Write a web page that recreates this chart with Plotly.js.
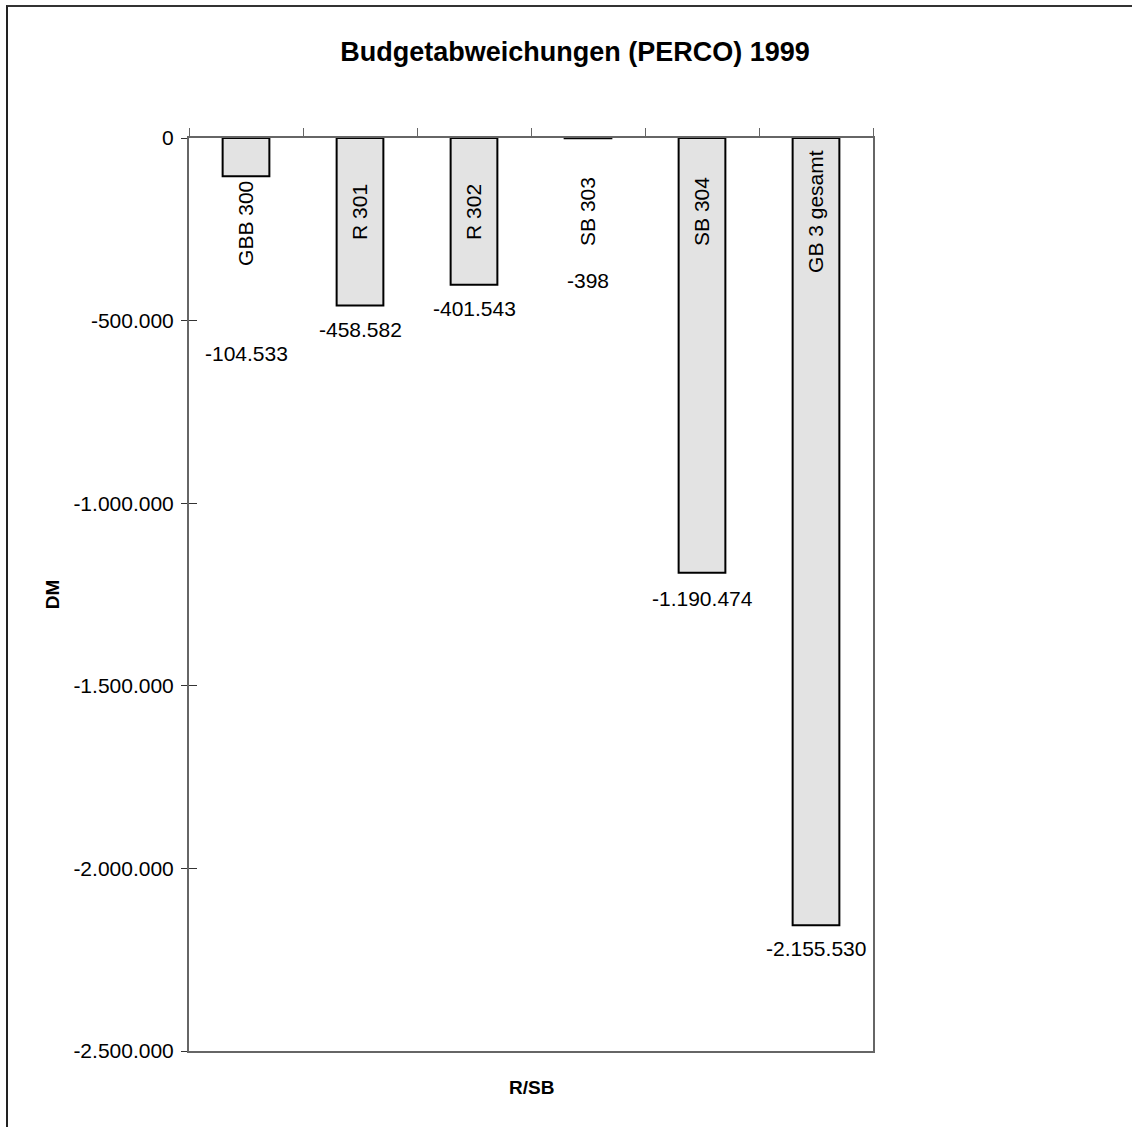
<!DOCTYPE html>
<html>
<head>
<meta charset="utf-8">
<script src="https://cdn.plot.ly/plotly-3.0.1.min.js"></script>
<style>
  html, body { margin: 0; padding: 0; background: #fff; }
  #wrap { position: relative; width: 1132px; height: 1127px; }
  #chart { width: 1132px; height: 1127px; }
  #frame { position: absolute; left: 6px; top: 5px; right: 0; bottom: 0;
           border-left: 2px solid #222; border-top: 2px solid #333; pointer-events: none; }
</style>
</head>
<body>
<div id="wrap">
  <div id="chart"></div>
  <div id="frame"></div>
</div>
<script>
// ---- data ----
const categories = ["GBB 300", "R 301", "R 302", "SB 303", "SB 304", "GB 3 gesamt"];
const values = [-104533, -458582, -401543, -398, -1190474, -2155530];
const yTickVals = [0, -500000, -1000000, -1500000, -2000000, -2500000];
const chartTitle = "Budgetabweichungen (PERCO) 1999";
const yTitle = "DM";
const xTitle = "R/SB";

// German number format: thousands separator "."
function fmt(v) {
  const s = Math.abs(Math.round(v)).toString().replace(/\B(?=(\d{3})+(?!\d))/g, ".");
  return (v < 0 ? "-" : "") + s;
}
const yTickText = yTickVals.map(fmt);

const FONT = "Liberation Sans, Arial, Helvetica, sans-serif";

// pixel offsets of the labels (Excel nudged the ones that would collide)
const valueLabelShift = [-177, -24, -24, -142, -26, -23];
const catLabelShift = [-12, 0, 0, 0, 0, 0];

const barTrace = {
  type: "bar",
  x: categories,
  y: values,
  width: 0.41,
  marker: { color: "#e3e3e3", line: { color: "#000", width: 2 } },
  hoverinfo: "x+y"
};
// helper trace so that the overlaid axis (inside tick marks) is drawn
const tickTrace = {
  type: "scatter", mode: "none", x: categories, y: values,
  yaxis: "y2", hoverinfo: "skip", showlegend: false
};

const annotations = [];
categories.forEach((c, i) => {
  annotations.push({
    x: c, y: 0.919, xref: "x", yref: "paper",
    text: c, textangle: -90, showarrow: false,
    xanchor: "center", yanchor: "middle", yshift: catLabelShift[i],
    font: { family: FONT, size: 21, color: "#000" }
  });
  annotations.push({
    x: c, y: values[i], xref: "x", yref: "y",
    text: fmt(values[i]), showarrow: false,
    xanchor: "center", yanchor: "middle", yshift: valueLabelShift[i],
    font: { family: FONT, size: 21, color: "#000" }
  });
});
annotations.push({
  x: 0.5, xref: "paper", y: -(1087 - 1051) / 913, yref: "paper",
  text: "<b>" + xTitle + "</b>", showarrow: false,
  xanchor: "center", yanchor: "middle",
  font: { family: FONT, size: 19, color: "#000" }
});

const layout = {
  width: 1132, height: 1127,
  margin: { l: 189, r: 259, t: 138, b: 76, pad: 0 },
  paper_bgcolor: "#fff", plot_bgcolor: "#fff",
  showlegend: false,
  font: { family: FONT, color: "#000" },
  title: {
    text: "<b>" + chartTitle + "</b>",
    x: 575 / 1132, xref: "container", xanchor: "center",
    y: 1 - 52 / 1127, yref: "container", yanchor: "middle",
    font: { family: FONT, size: 27, color: "#000" }
  },
  xaxis: {
    type: "category",
    side: "top",
    showline: true, linecolor: "#666", linewidth: 2, mirror: true,
    ticks: "outside", tickson: "boundaries", ticklen: 8, tickcolor: "#666", tickwidth: 1,
    showticklabels: false, showgrid: false, zeroline: false,
    fixedrange: true
  },
  yaxis: {
    range: [-2500000, 0],
    tickvals: yTickVals, ticktext: yTickText,
    showline: true, linecolor: "#666", linewidth: 2, mirror: true,
    ticks: "outside", ticklen: 6, tickcolor: "#333", tickwidth: 1,
    ticklabelstandoff: 3,
    showgrid: false, zeroline: false,
    tickfont: { family: FONT, size: 21, color: "#000" },
    title: { text: "<b>" + yTitle + "</b>", standoff: 9,
             font: { family: FONT, size: 19, color: "#000" } },
    fixedrange: true
  },
  yaxis2: {
    overlaying: "y", side: "left", anchor: "x",
    range: [-2500000, 0],
    tickvals: yTickVals, ticks: "inside", ticklen: 8, tickcolor: "#333", tickwidth: 1,
    showticklabels: false, showline: false, showgrid: false, zeroline: false,
    fixedrange: true
  },
  annotations: annotations
};

Plotly.newPlot("chart", [barTrace, tickTrace], layout, { displayModeBar: false, staticPlot: true });
</script>
</body>
</html>
